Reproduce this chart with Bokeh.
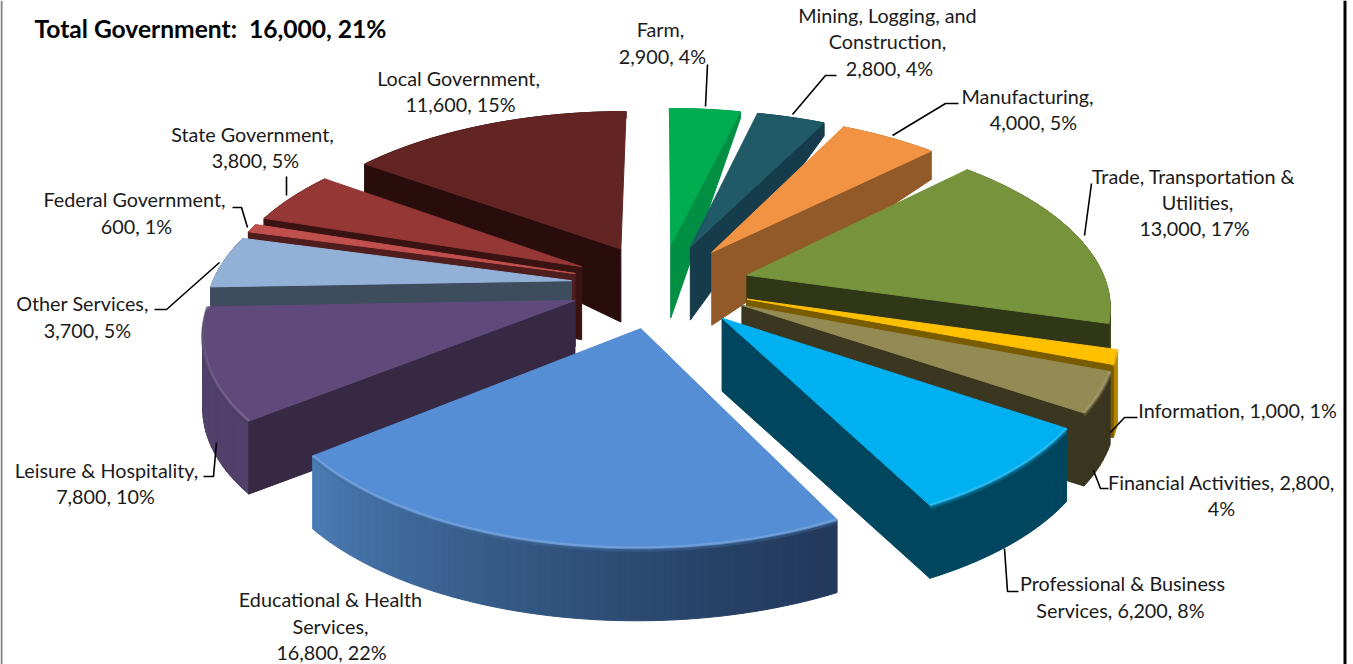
import numpy as np
from bokeh.plotting import figure
from bokeh.models import Range1d
from bokeh.embed import file_html
from bokeh.resources import INLINE
from bokeh.core.properties import value

names = ["Farm", "Mining, Logging, and Construction", "Manufacturing",
         "Trade, Transportation & Utilities", "Information", "Financial Activities",
         "Professional & Business Services", "Educational & Health Services",
         "Leisure & Hospitality", "Other Services", "Federal Government",
         "State Government", "Local Government"]
values = [2900, 2800, 4000, 13000, 1000, 2800, 6200, 16800, 7800, 3700, 600, 3800, 11600]
top_colors = ["#00ac50", "#1f5a66", "#f29344", "#77933c", "#ffc000", "#948a54", "#00b0f0",
              "#558ed5", "#604a7b", "#93b1d7", "#c0504d", "#953735", "#632523"]
side_colors = ["#008f43", "#163c4b", "#915a28", "#2f3716", "#7a5c00", "#3b3620", "#00465f",
               "#2f527f", "#372944", "#3d4d5e", "#4f1d1d", "#3a1212", "#280d0c"]
wall_colors = ["#008f43", "#163c4b", "#915a28", "#3f4c1e", "#b38600", "#3b3620", "#00465f",
               "#2f527f", "#50406a", "#3d4d5e", "#4f1d1d", "#3a1212", "#280d0c"]
draw_order = [0, 1, 2, 12, 11, 10, 9, 3, 4, 5, 8, 6, 7]
FRONT = 7  # the slice facing the viewer: no cut face is visible

title = "Total Government:\u00a0 16,000, 21%"
# text, x centre, y centre (page layout)
labels = [("Farm,", 660, 30), ("2,900, 4%", 662, 57),
          ("Mining, Logging, and", 887, 16), ("Construction,", 887, 42), ("2,800, 4%", 889, 69),
          ("Manufacturing,", 1027, 97), ("4,000, 5%", 1033, 123),
          ("Trade, Transportation &", 1193, 177), ("Utilities,", 1197, 203), ("13,000, 17%", 1194, 229),
          ("Information, 1,000, 1%", 1237, 411),
          ("Financial Activities, 2,800,", 1221, 483), ("4%", 1221, 509),
          ("Professional & Business", 1122, 584), ("Services, 6,200, 8%", 1120, 611),
          ("Educational & Health", 330, 600), ("Services,", 330, 627), ("16,800, 22%", 331, 653),
          ("Leisure & Hospitality,", 106, 471), ("7,800, 10%", 105, 497),
          ("Other Services,", 82, 304), ("3,700, 5%", 87, 331),
          ("Federal Government,", 134, 200), ("600, 1%", 136, 227),
          ("State Government,", 252, 135), ("3,800, 5%", 255, 161),
          ("Local Government,", 458, 79), ("11,600, 15%", 460, 105)]
leaders = [([707, 705], [64, 106]),
           ([792, 825, 836], [114, 75, 75]),
           ([892, 945, 958], [135, 103, 103]),
           ([1091, 1084], [183, 235]),
           ([1110, 1124, 1137], [432, 417, 417]),
           ([1093, 1100, 1108], [470, 488, 488]),
           ([1004, 1007, 1018], [548, 591, 591]),
           ([216, 213, 203], [442, 476, 476]),
           ([219, 166, 154], [262, 309, 309]),
           ([247, 241, 232], [227, 207, 207]),
           ([286, 286], [176, 195])]

# projection constants
CX, CY, AX, BY, PERSP, EXPLODE = 660.0, 285.0, 360.0, 169.6, 0.157, 0.25


def project(x, y):
    w = 1 + PERSP * y
    return CX + AX * x / w, CY - BY * y / w


def thickness(y):
    return np.where(y < 0.25, 73.0, 73.0 - 68.0 * (y - 0.25))


def hex2rgb(c):
    return np.array([int(c[i:i + 2], 16) for i in (1, 3, 5)], float)


def mix(c1, c2, t):
    r = hex2rgb(c1) * (1 - t) + hex2rgb(c2) * t
    return "#%02x%02x%02x" % tuple(int(v) for v in r)


p = figure(width=1353, height=664, output_backend="svg", toolbar_location=None,
           x_range=Range1d(0, 1353), y_range=Range1d(664, 0),
           min_border=0, outline_line_color=None)
p.axis.visible = False
p.grid.visible = False

# frame
p.line([1, 1], [0, 664], line_color="#808080", line_width=2)
p.line([1344.5, 1344.5], [0, 664], line_color="#000000", line_width=3)

edges = np.cumsum([0] + values) / sum(values) * 2 * np.pi

for i in draw_order:
    a0, a1 = edges[i], edges[i + 1]
    mid = (a0 + a1) / 2
    ox, oy = EXPLODE * np.sin(mid), EXPLODE * np.cos(mid)
    th = np.linspace(a0, a1, max(8, int((a1 - a0) * 40)))
    X, Y = ox + np.sin(th), oy + np.cos(th)
    sx, sy = project(X, Y)
    hh = thickness(Y)
    tx, ty = project(np.array([ox]), np.array([oy]))
    th0 = thickness(np.array([oy]))

    # outer wall
    xs, ys, cs = [], [], []
    for k in range(len(th) - 1):
        xs.append([sx[k], sx[k + 1], sx[k + 1], sx[k]])
        ys.append([sy[k], sy[k + 1], sy[k + 1] + hh[k + 1], sy[k] + hh[k]])
        if i == FRONT:
            t = k / (len(th) - 2)      # runs right -> left
            cs.append(mix("#233a5c", "#4a7cb4", t ** 1.3))
        else:
            cs.append(wall_colors[i])
    p.patches(xs, ys, fill_color=cs, line_color=cs, line_width=1)

    # radial cut face turned to the viewer
    if i != FRONT:
        j = -1 if i < FRONT else 0
        p.patch([tx[0], sx[j], sx[j], tx[0]],
                [ty[0], sy[j], sy[j] + hh[j], ty[0] + th0[0]],
                fill_color=side_colors[i], line_color=side_colors[i], line_width=1)

    # top surface
    p.patch(np.r_[tx, sx], np.r_[ty, sy], fill_color=top_colors[i],
            line_color=top_colors[i], line_width=1)

    # soft bevel along the front rim
    if np.mean(Y) < 0.1:
        light = mix(top_colors[i], "#ffffff", 0.22)
        dark = mix(top_colors[i], "#000000", 0.25)
        p.line(sx, sy, line_color=light, line_width=3, line_alpha=0.7)
        p.line(sx, sy + 2.5, line_color=dark, line_width=3, line_alpha=0.45)

for lx, ly in leaders:
    p.line(lx, ly, line_color="#000000", line_width=1.6)

p.text([x for _, x, _ in labels], [y for _, _, y in labels], text=[t for t, _, _ in labels],
       text_font=value("Lato"), text_font_size="19.8px", text_color="#1a1a1a",
       text_align="center", text_baseline="middle", y_offset=-2)
p.text([34], [29], text=[title], text_font=value("Lato"), text_font_size="24.6px",
       text_font_style="bold", text_color="#000000", text_align="left", text_baseline="middle",
       y_offset=-1)

open("out.html", "w").write(file_html(p, INLINE))
